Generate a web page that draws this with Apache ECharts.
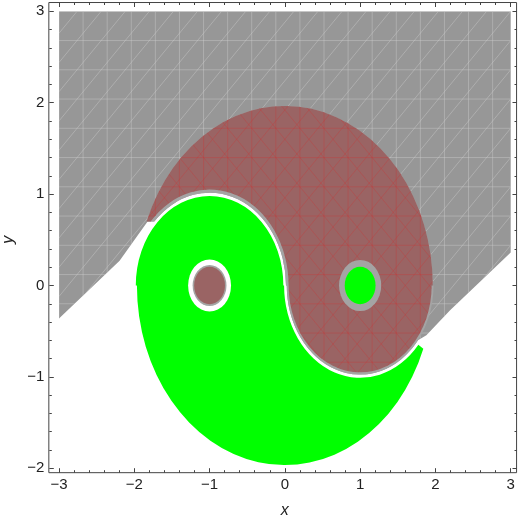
<!DOCTYPE html>
<html>
<head>
<meta charset="utf-8">
<script src="https://cdn.jsdelivr.net/npm/echarts@6/dist/echarts.min.js"></script>
<style>
  html, body { margin: 0; padding: 0; background: #fff; }
  #chart { width: 518px; height: 527px; }
</style>
</head>
<body>
<div id="chart"></div>
<script>
// plot range, frame box (data units)
var xRange = [-3, 3];
var yRange = [-2, 3];
var frameX = [-3.135, 3.078];
var frameY = [-2.048, 3.096];

// gray region outline
var grayTop = [[-3, 3], [3, 3], [3, 0.36], [2.195, -0.27], [1.88, -0.545]];
var grayLeft = [[-1.823, 0.70], [-2.195, 0.27], [-3, -0.36]];

// yin-yang: outer radius, lobe centres, lobe radii [left, right]
var outerR = 1.965;
var lobeX = [-1, 1];
var bandLobes = [1.015, 0.975];
var redLobes = [1.05, 0.95];
var greenLobes = [0.98, 1.01];
var bandStart = -38;          // angle where gray edge meets the band (right lobe)
var redTipY = 0.70;           // red tail cut
var greenTip = [-20.6, -40];  // green tail: outer angle, right lobe angle

// eyes
var leftEyeR = [0.285, 0.225, 0.205];  // white ring, gray rim, red dot
var rightEyeR = [0.28, 0.205];         // gray ring, green dot

// faint mesh of the plotted regions
var meshStep = 0.32;

var chart = echarts.init(document.getElementById('chart'));

function pt(api, cx, cy, r, deg) {
  var a = deg * Math.PI / 180;
  return api.coord([cx + r * Math.cos(a), cy + r * Math.sin(a)]);
}
// elliptical arc in pixels (x and y scales differ), split in <=90 deg pieces
function arc(api, cx, cy, r, a0, a1) {
  var rx = api.size([r, 0])[0], ry = api.size([0, r])[1];
  var n = Math.max(1, Math.ceil(Math.abs(a1 - a0) / 90));
  var s = '';
  for (var i = 1; i <= n; i++) {
    var p = pt(api, cx, cy, r, a0 + (a1 - a0) * i / n);
    s += ' A ' + rx + ' ' + ry + ' 0 0 ' + (a1 > a0 ? 0 : 1) + ' ' + p[0] + ' ' + p[1];
  }
  return s;
}
function M(p) { return 'M ' + p[0] + ' ' + p[1]; }
function L(p) { return ' L ' + p[0] + ' ' + p[1]; }
function deg(v) { return v * 180 / Math.PI; }

function circlePath(api, cx, cy, r) {
  return M(pt(api, cx, cy, r, 0)) + arc(api, cx, cy, r, 0, 360) + ' Z';
}

function yinPath(api, lobes) {
  var a0 = 180 - deg(Math.asin(redTipY / outerR));
  var aL = 180 - deg(Math.asin(redTipY / lobes[0]));
  return M(pt(api, 0, 0, outerR, a0)) + arc(api, 0, 0, outerR, a0, 0) +
    L(pt(api, lobeX[1], 0, lobes[1], 0)) + arc(api, lobeX[1], 0, lobes[1], 0, -180) +
    L(pt(api, lobeX[0], 0, lobes[0], 0)) + arc(api, lobeX[0], 0, lobes[0], 0, aL) + ' Z';
}

function grayPath(api) {
  var s = M(api.coord(grayTop[0]));
  grayTop.slice(1).forEach(function (p) { s += L(api.coord(p)); });
  s += L(pt(api, lobeX[1], 0, bandLobes[1], bandStart)) +
    arc(api, lobeX[1], 0, bandLobes[1], bandStart, -180);
  var aL = 180 - deg(Math.asin(redTipY / bandLobes[0]));
  s += L(pt(api, lobeX[0], 0, bandLobes[0], 0)) + arc(api, lobeX[0], 0, bandLobes[0], 0, aL);
  grayLeft.forEach(function (p) { s += L(api.coord(p)); });
  return s + ' Z';
}

function greenPath(api) {
  return M(pt(api, 0, 0, outerR, greenTip[0])) + arc(api, 0, 0, outerR, greenTip[0], -180) +
    L(pt(api, lobeX[0], 0, greenLobes[0], 180)) + arc(api, lobeX[0], 0, greenLobes[0], 180, 0) +
    L(pt(api, lobeX[1], 0, greenLobes[1], 180)) + arc(api, lobeX[1], 0, greenLobes[1], 180, 360 + greenTip[1]) +
    ' Z';
}

function shape(d, color) {
  return { type: 'path', shape: { pathData: d }, style: { fill: color, stroke: null } };
}

// mesh lines (grid + diagonals) clipped to a region
function mesh(api, clipD, color, bothDiagonals) {
  var s = '';
  var n = Math.round((xRange[1] - xRange[0]) / meshStep) + 1;
  for (var i = 0; i <= n; i++) {
    var x = xRange[0] + i * meshStep, y = yRange[1] - i * meshStep;
    s += M(api.coord([x, yRange[0]])) + L(api.coord([x, yRange[1]]));
    s += M(api.coord([xRange[0], y])) + L(api.coord([xRange[1], y]));
  }
  for (var j = -2 * n; j <= 2 * n; j++) {
    var c = j * meshStep;
    s += M(api.coord([xRange[0], xRange[0] + c + (yRange[1] - xRange[1]) % meshStep])) +
      L(api.coord([xRange[1], xRange[1] + c + (yRange[1] - xRange[1]) % meshStep]));
    if (bothDiagonals) {
      s += M(api.coord([xRange[0], -xRange[0] + c])) + L(api.coord([xRange[1], -xRange[1] + c]));
    }
  }
  return {
    type: 'group',
    clipPath: { type: 'path', shape: { pathData: clipD } },
    children: [{ type: 'path', shape: { pathData: s }, style: { fill: null, stroke: color, lineWidth: 0.8 } }]
  };
}

function renderRegions(params, api) {
  var gray = grayPath(api), red = yinPath(api, redLobes);
  return {
    type: 'group',
    children: [
      shape(gray, '#979797'),
      mesh(api, gray, 'rgba(205,205,205,0.55)', false),
      shape(yinPath(api, bandLobes), '#a4a4a4'),
      shape(red, '#9a6464'),
      mesh(api, red, 'rgba(200,60,60,0.45)', true),
      shape(greenPath(api), '#00ff00'),
      shape(circlePath(api, lobeX[0], 0, leftEyeR[0]), '#ffffff'),
      shape(circlePath(api, lobeX[0], 0, leftEyeR[1]), '#a4a4a4'),
      shape(circlePath(api, lobeX[0], 0, leftEyeR[2]), '#9a6464'),
      shape(circlePath(api, lobeX[1], 0, rightEyeR[0]), '#a4a4a4'),
      shape(circlePath(api, lobeX[1], 0, rightEyeR[1]), '#00ff00')
    ]
  };
}

function renderFrame(params, api) {
  var a = api.coord([frameX[0], frameY[1]]);
  var b = api.coord([frameX[1], frameY[0]]);
  return {
    type: 'rect',
    shape: { x: a[0], y: a[1], width: b[0] - a[0], height: b[1] - a[1] },
    style: { fill: null, stroke: '#444', lineWidth: 1 }
  };
}

var minus = function (v) { return v < 0 ? '\u2212' + (-v) : String(v); };
var font = { color: '#222', fontSize: 15, fontFamily: 'Liberation Sans' };
var nameFont = { color: '#222', fontSize: 16, fontStyle: 'italic', fontFamily: 'Liberation Sans' };
var tick = { inside: true, length: 4.5, lineStyle: { color: '#444', width: 1 } };
var minor = { show: true, splitNumber: 5, length: 2.5, lineStyle: { color: '#444', width: 1 } };

function axis(pos, range, offset, labels, extra) {
  return Object.assign({
    type: 'value', position: pos, min: range[0], max: range[1], interval: 1,
    offset: offset,
    axisLine: { show: false, onZero: false },
    axisTick: tick, minorTick: minor,
    splitLine: { show: false }, minorSplitLine: { show: false },
    axisLabel: labels ? Object.assign({ margin: 5, formatter: minus }, font) : { show: false }
  }, extra || {});
}

chart.setOption({
  animation: false,
  grid: { left: 59, right: 7.3, top: 11.3, bottom: 58.7, containLabel: false, outerBoundsMode: 'none' },
  xAxis: [
    axis('bottom', xRange, 4.4, true, { name: 'x', nameLocation: 'middle', nameGap: 30, nameTextStyle: nameFont }),
    axis('top', xRange, 8.8, false)
  ],
  yAxis: [
    axis('left', yRange, 9.7, true, { name: 'y', nameLocation: 'middle', nameGap: 20, nameRotate: 90, nameTextStyle: nameFont }),
    axis('right', yRange, 6.3, false)
  ],
  series: [
    { type: 'custom', data: [[0, 0]], renderItem: renderRegions, silent: true, clip: true, z: 1 },
    { type: 'custom', data: [[0, 0]], renderItem: renderFrame, silent: true, clip: false, z: 5 }
  ]
});
</script>
</body>
</html>
